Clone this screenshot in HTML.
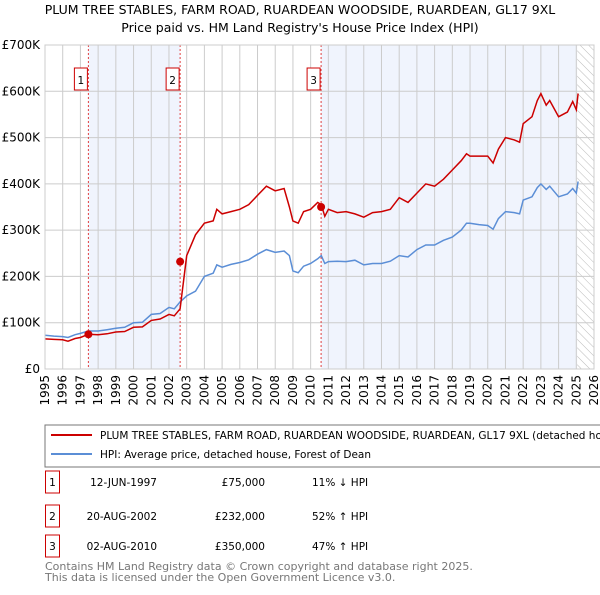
<!DOCTYPE html>
<html><head><meta charset="utf-8"><style>
body{margin:0;background:#fff;font-family:"Liberation Sans","DejaVu Sans",sans-serif;}
svg text{font-family:"DejaVu Sans","Liberation Sans",sans-serif;}
</style></head><body>
<svg id="c" width="600" height="590" xmlns="http://www.w3.org/2000/svg">
<defs><pattern id="hatch" width="6" height="6" patternUnits="userSpaceOnUse" patternTransform="rotate(-45)"><line x1="0" y1="0" x2="0" y2="6" stroke="#bbb" stroke-width="1"/></pattern></defs>
<text x="300" y="14" text-anchor="middle" font-size="12.5" fill="#000">PLUM TREE STABLES, FARM ROAD, RUARDEAN WOODSIDE, RUARDEAN, GL17 9XL</text>
<text x="300" y="32" text-anchor="middle" font-size="12.5" fill="#000">Price paid vs. HM Land Registry's House Price Index (HPI)</text>
<g id="plot"></g>
<rect x="45" y="425" width="560" height="42" fill="#fff" stroke="#777"/>
<line x1="51" y1="435" x2="92" y2="435" stroke="#cc0000" stroke-width="2"/>
<text x="100" y="439" font-size="10.5">PLUM TREE STABLES, FARM ROAD, RUARDEAN WOODSIDE, RUARDEAN, GL17 9XL (detached house)</text>
<line x1="51" y1="454" x2="92" y2="454" stroke="#5b8ed6" stroke-width="2"/>
<text x="100" y="458" font-size="10.5">HPI: Average price, detached house, Forest of Dean</text>
<g font-size="10.5">
<rect x="45.5" y="471" width="14" height="22" fill="none" stroke="#cc0000"/><text x="52.5" y="486" text-anchor="middle">1</text>
<text x="157" y="486" text-anchor="end">12-JUN-1997</text><text x="265" y="486" text-anchor="end">£75,000</text><text x="312" y="486">11% ↓ HPI</text>
<rect x="45.5" y="505" width="14" height="22" fill="none" stroke="#cc0000"/><text x="52.5" y="520" text-anchor="middle">2</text>
<text x="157" y="520" text-anchor="end">20-AUG-2002</text><text x="265" y="520" text-anchor="end">£232,000</text><text x="312" y="520">52% ↑ HPI</text>
<rect x="45.5" y="535" width="14" height="22" fill="none" stroke="#cc0000"/><text x="52.5" y="550" text-anchor="middle">3</text>
<text x="157" y="550" text-anchor="end">02-AUG-2010</text><text x="265" y="550" text-anchor="end">£350,000</text><text x="312" y="550">47% ↑ HPI</text>
</g>
<text x="45" y="570" font-size="11" fill="#777">Contains HM Land Registry data © Crown copyright and database right 2025.</text>
<text x="45" y="581" font-size="11" fill="#777">This data is licensed under the Open Government Licence v3.0.</text>
</svg>
<script>
const yTicks=[0,100,200,300,400,500,600,700];
const yTickLabels=["£0","£100K","£200K","£300K","£400K","£500K","£600K","£700K"];
const years=[1995,1996,1997,1998,1999,2000,2001,2002,2003,2004,2005,2006,2007,2008,2009,2010,2011,2012,2013,2014,2015,2016,2017,2018,2019,2020,2021,2022,2023,2024,2025,2026];
const saleDates=[1997.45,2002.63,2010.59];
const salePrices=[75,232,350];
const saleLabels=["1","2","3"];
const hpiT=[1995,1995.5,1996,1996.3,1996.7,1997,1997.45,1998,1998.5,1999,1999.5,2000,2000.5,2001,2001.5,2002,2002.3,2002.63,2003,2003.5,2004,2004.5,2004.7,2005,2005.5,2006,2006.5,2007,2007.5,2008,2008.5,2008.8,2009,2009.3,2009.6,2010,2010.4,2010.6,2010.8,2011,2011.5,2012,2012.5,2013,2013.5,2014,2014.5,2015,2015.5,2016,2016.5,2017,2017.5,2018,2018.5,2018.8,2019,2019.5,2020,2020.3,2020.6,2021,2021.5,2021.8,2022,2022.5,2022.8,2023,2023.3,2023.5,2024,2024.5,2024.8,2025,2025.1];
const hpiV=[73,71,70,68,74,77,82,82,85,88,90,100,101,118,120,133,130,145,158,168,200,207,225,220,226,230,236,248,258,252,255,245,212,208,222,228,238,245,228,232,233,232,235,225,228,228,233,245,242,258,268,268,278,285,300,315,315,312,310,302,325,340,338,335,365,372,392,400,388,395,372,378,390,380,405];
const redT=hpiT;
const redV=[65,64,63,60,66,68,75,74,76,80,81,90,91,105,108,118,115,130,245,290,315,320,345,335,340,345,355,375,395,385,390,350,320,315,340,345,360,355,330,345,338,340,335,328,338,340,345,370,360,380,400,395,410,430,450,465,460,460,460,445,475,500,495,490,530,545,580,595,570,580,545,555,578,560,595];
const NS="http://www.w3.org/2000/svg";
const L=45,R=594,T=45,B=369;
const xs=y=>L+(y-1995)/(2026-1995)*(R-L);
const ys=v=>B-v/700*(B-T);
const g=document.getElementById('plot');
function mk(t,a){const e=document.createElementNS(NS,t);for(const k in a)e.setAttribute(k,a[k]);g.appendChild(e);return e;}
let e;
e=mk('rect',{x:xs(saleDates[0]),y:T,width:xs(saleDates[1])-xs(saleDates[0]),height:B-T,fill:'#f0f4fd'});


e=mk('rect',{x:xs(saleDates[2]),y:T,width:xs(2025.05)-xs(saleDates[2]),height:B-T,fill:'#f0f4fd'});


e=mk('rect',{x:xs(2025.05),y:T,width:R-xs(2025.05),height:B-T,fill:'url(#hatch)'});


years.forEach(y=>{
 e=mk('line',{x1:xs(y),x2:xs(y),y1:T,y2:B,stroke:'#ccc','stroke-width':1});
 
 
 e=mk('text',{x:0,y:0,'font-size':12,'text-anchor':'end',transform:`translate(${xs(y)+4},${B+6}) rotate(-90)`});
 e.textContent=y;
 
 
});
yTicks.forEach((v,i)=>{
 e=mk('line',{x1:L,x2:R,y1:ys(v),y2:ys(v),stroke:'#ccc','stroke-width':1});
 
 
 e=mk('text',{x:L-5,y:ys(v)+4,'font-size':12,'text-anchor':'end'});
 e.textContent=yTickLabels[i];
 
 
});
saleDates.forEach((d,i)=>{
 e=mk('line',{x1:xs(d),x2:xs(d),y1:T,y2:B,stroke:'#e04040','stroke-width':1,'stroke-dasharray':'2,2'});
 
 
 e=mk('rect',{x:xs(d)-14,y:68,width:13,height:22,fill:'#fff',stroke:'#cc0000'});
 
 
 e=mk('text',{x:xs(d)-7.5,y:84,'font-size':10.5,'text-anchor':'middle'});
 e.textContent=saleLabels[i];
 
 
});
function path(T_,V,c,n){
 e=mk('path',{d:T_.map((t,i)=>(i?'L':'M')+xs(t).toFixed(1)+','+ys(V[i]).toFixed(1)).join(''),fill:'none',stroke:c,'stroke-width':1.5});
 
 
}
path(hpiT,hpiV,'#5b8ed6','hpi-line');
path(redT,redV,'#cc0000','property-price-line');
saleDates.forEach((d,i)=>{
 e=mk('circle',{cx:xs(d),cy:ys(salePrices[i]),r:4,fill:'#cc0000'});
 
 
});
e=mk('rect',{x:L,y:T,width:R-L,height:B-T,fill:'none',stroke:'#ccc'});


</script>
</body></html>
